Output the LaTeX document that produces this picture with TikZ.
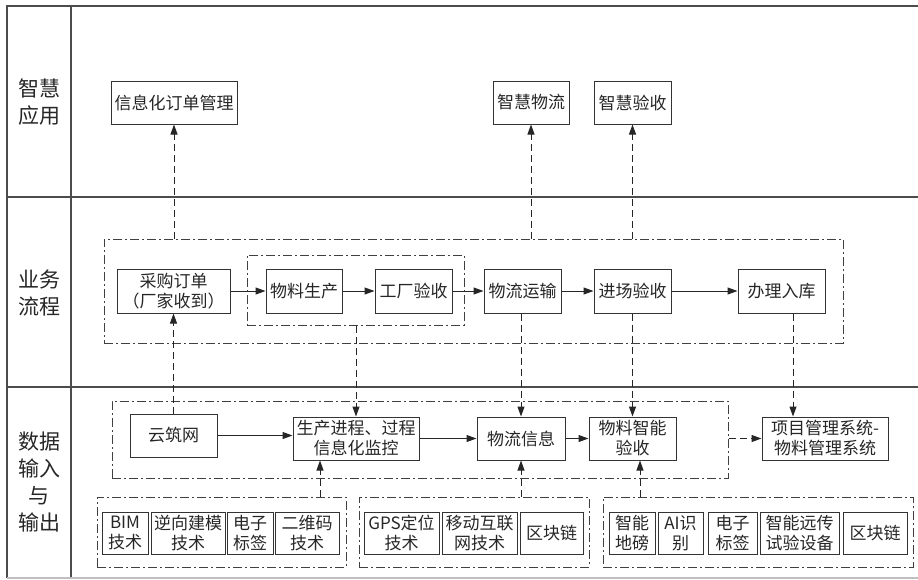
\documentclass[tikz,border=0pt]{standalone}
\usepackage{fontspec}
\setmainfont{Noto Sans CJK SC}
\usetikzlibrary{arrows.meta}
\newcommand\mkbox[6]{\node[box, minimum width=#4pt, minimum height=#5pt] (#1) at (#2,#3) {#6};}
\newcommand\mkgrp[5]{\node[grp, minimum width=#4pt, minimum height=#5pt] (#1) at (#2,#3) {};}
\begin{document}
\begin{tikzpicture}[x=1pt,y=-1pt,
  box/.style={draw=black!80, line width=1pt, inner sep=0pt, align=center,
    font=\fontsize{17}{20}\selectfont, text=black!85},
  grp/.style={draw=black!75, line width=1pt, dash pattern=on 9pt off 3pt on 2pt off 3pt, inner sep=0pt},
  flow/.style={draw=black!85, line width=1pt, -{Triangle[length=10pt,width=7pt]}},
  dflow/.style={flow, dash pattern=on 7pt off 4pt},
  lane/.style={draw=black!70, line width=1.4pt},
  lanelabel/.style={align=center, font=\fontsize{21}{27}\selectfont, text=black!85}
]
\useasboundingbox (0,0) rectangle (918,579);
% swimlane frame
\draw[lane] (918,6) -- (7,6) -- (7,578);
\draw[lane] (71,6) -- (71,578);
\draw[lane] (7,197) -- (918,197);
\draw[lane] (7,387) -- (918,387);
\draw[lane, draw=black!25] (7,578) -- (918,578);
\node[lanelabel] (L1) at (39,102) {智慧\\应用};
\node[lanelabel] (L2) at (39,293) {业务\\流程};
\node[lanelabel] (L3) at (39,482) {数据\\输入\\与\\输出};
% group frames
\mkgrp{F1}{473.5}{291}{739}{104}
\mkgrp{F2}{355.5}{290}{217}{70}
\mkgrp{F3}{420}{439.5}{616}{77}
\mkgrp{G1}{221.5}{532}{249}{70}
\mkgrp{G2}{474}{532}{230}{70}
\mkgrp{G3}{758}{532}{310}{70}
% top row
\mkbox{t1}{174}{102.5}{126}{43}{信息化订单管理}
\mkbox{t2}{531}{102.5}{76}{43}{智慧物流}
\mkbox{t3}{632.5}{102.5}{77}{43}{智慧验收}
% middle row
\mkbox{m1}{173.5}{291}{113}{44}{采购订单\\（厂家收到）}
\mkbox{m2}{304}{291}{76}{44}{物料生产}
\mkbox{m3}{413.5}{291}{77}{44}{工厂验收}
\mkbox{m4}{522.5}{291}{77}{44}{物流运输}
\mkbox{m5}{632.5}{291}{77}{44}{进场验收}
\mkbox{m6}{781.5}{291}{87}{44}{办理入库}
% data row
\mkbox{b1}{173.5}{435.5}{87}{43}{云筑网}
\mkbox{b2}{356}{438.5}{126}{43}{生产进程、过程\\信息化监控}
\mkbox{b3}{521}{438.5}{88}{43}{物流信息}
\mkbox{b4}{632.5}{438.5}{87}{43}{物料智能\\验收}
\mkbox{b5}{825}{438.5}{126}{43}{项目管理系统-\\物料管理系统}
% technology groups
\mkbox{g11}{125}{533}{46}{42}{BIM\\技术}
\mkbox{g12}{188}{533}{74}{42}{逆向建模\\技术}
\mkbox{g13}{250}{533}{46}{42}{电子\\标签}
\mkbox{g14}{307}{533}{64}{42}{二维码\\技术}
\mkbox{g21}{401.5}{533}{75}{42}{GPS定位\\技术}
\mkbox{g22}{479.5}{533}{75}{42}{移动互联\\网技术}
\mkbox{g23}{551.5}{533}{63}{42}{区块链}
\mkbox{g31}{632}{533}{46}{42}{智能\\地磅}
\mkbox{g32}{680.5}{533}{45}{42}{AI识\\别}
\mkbox{g33}{732.5}{533}{49}{42}{电子\\标签}
\mkbox{g34}{799.5}{533}{79}{42}{智能远传\\试验设备}
\mkbox{g35}{875}{533}{64}{42}{区块链}
% helper x positions
\coordinate (x793) at (793,0);
\coordinate (x320) at (320,0);
\coordinate (x640) at (640,0);
% arrows to applications
\draw[dflow] (F1.north -| t1) -- (t1.south);
\draw[dflow] (F1.north -| t2) -- (t2.south);
\draw[dflow] (F1.north -| t3) -- (t3.south);
% business flow
\draw[flow] (m1) -- (m2);
\draw[flow] (m2) -- (m3);
\draw[flow] (m3) -- (m4);
\draw[flow] (m4) -- (m5);
\draw[flow] (m5) -- (m6);
% business <-> data
\draw[dflow] (b1) -- (m1);
\draw[dflow] (F2.south -| b2) -- (b2.north);
\draw[dflow] (m4.south -| b3) -- (b3.north);
\draw[dflow] (m5) -- (b4);
\draw[dflow] (m6.south -| x793) -- (b5.north -| x793);
% data flow
\draw[flow] (b1.east) -- (b2.west |- b1.east);
\draw[flow] (b2) -- (b3);
\draw[flow] (b3) -- (b4);
\draw[dflow] (F3.east |- b5) -- (b5.west);
% technology inputs
\draw[dflow] (G1.north -| x320) -- (b2.south -| x320);
\draw[dflow] (G2.north -| b3) -- (b3.south);
\draw[dflow] (G3.north -| x640) -- (b4.south -| x640);
\end{tikzpicture}
\end{document}
